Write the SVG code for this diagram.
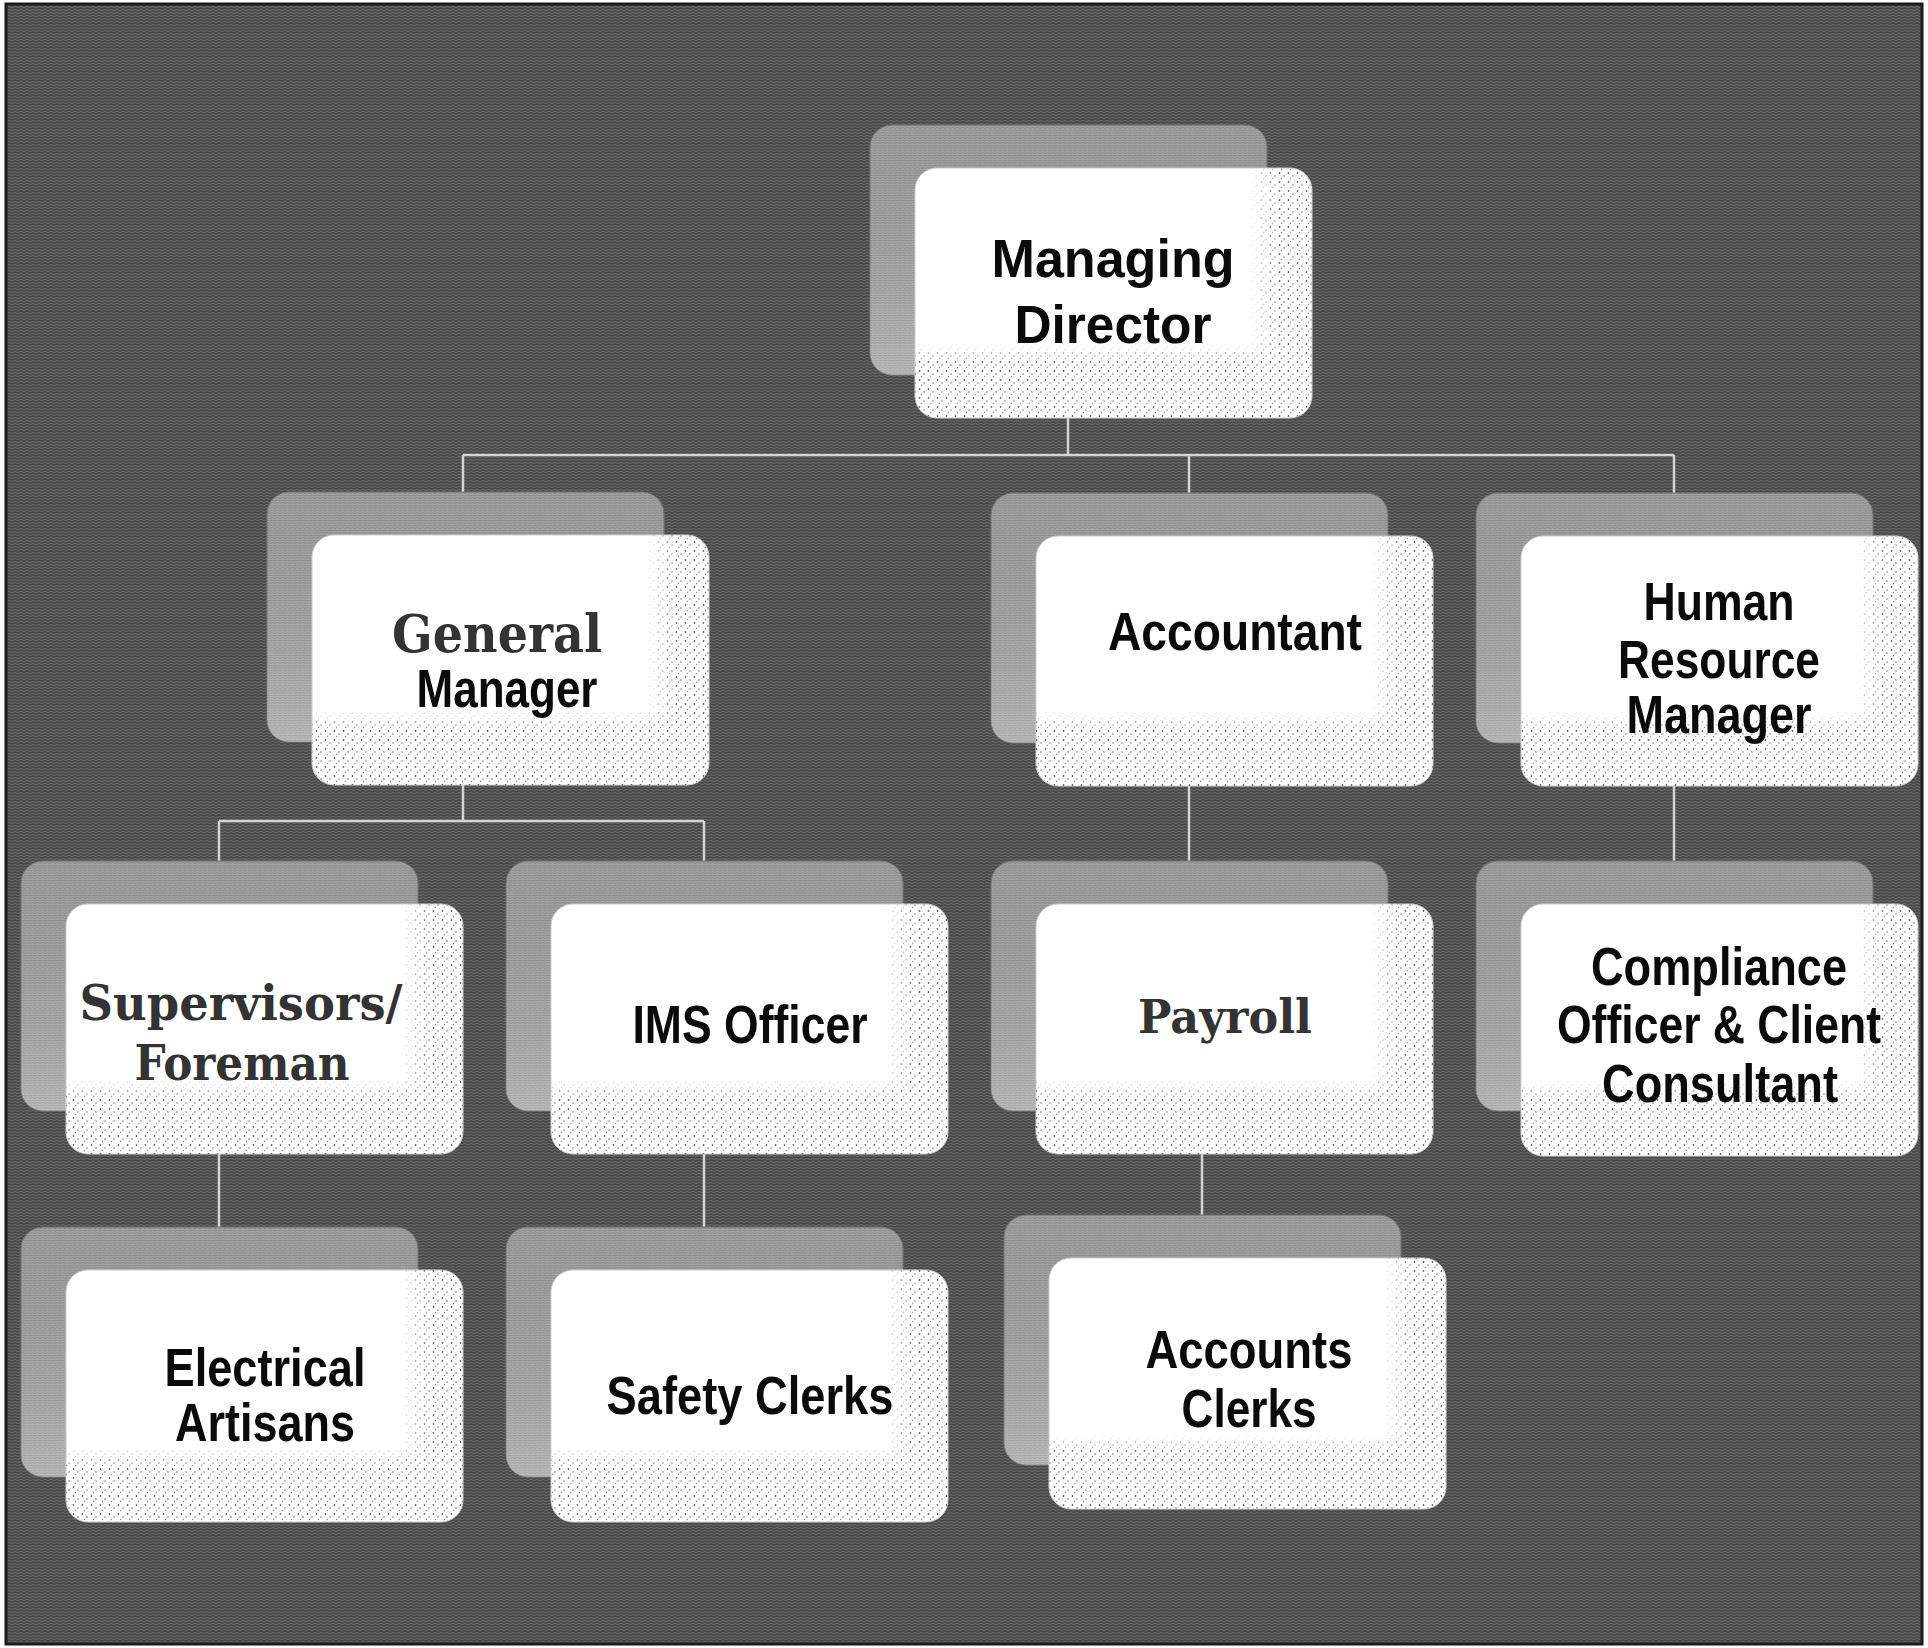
<svg xmlns="http://www.w3.org/2000/svg" width="1928" height="1648" viewBox="0 0 1928 1648">
<defs>
  <pattern id="dots" width="9" height="9" patternUnits="userSpaceOnUse">
    <circle cx="1.5" cy="2" r="0.9" fill="#666"/>
    <circle cx="6" cy="5" r="0.8" fill="#777"/>
    <circle cx="3.5" cy="7.5" r="0.7" fill="#888"/>
  </pattern>
  <pattern id="noise" width="6" height="6" patternUnits="userSpaceOnUse">
    <rect width="6" height="6" fill="#4a4a4a"/>
    <path d="M0,1.5 L3,0.5 L6,1.5 M0,4.5 L3,3.5 L6,4.5" stroke="#6a6a6a" stroke-width="1" fill="none"/>
  </pattern>
  <pattern id="backtex" width="5" height="5" patternUnits="userSpaceOnUse">
    <rect width="5" height="5" fill="#ababab"/>
    <path d="M0,1 L2.5,0 L5,1 M0,3.5 L2.5,2.5 L5,3.5" stroke="#8e8e8e" stroke-width="0.8" fill="none"/>
  </pattern>
  <linearGradient id="vg" x1="0" y1="0" x2="0" y2="1">
    <stop offset="0" stop-color="#000"/>
    <stop offset="0.7" stop-color="#000"/>
    <stop offset="0.78" stop-color="#fff"/>
    <stop offset="1" stop-color="#fff"/>
  </linearGradient>
  <linearGradient id="hg" x1="0" y1="0" x2="1" y2="0">
    <stop offset="0" stop-color="#fff" stop-opacity="0"/>
    <stop offset="0.84" stop-color="#fff" stop-opacity="0"/>
    <stop offset="0.92" stop-color="#fff" stop-opacity="1"/>
    <stop offset="1" stop-color="#fff" stop-opacity="1"/>
  </linearGradient>
  <mask id="edge" maskContentUnits="objectBoundingBox">
    <rect width="1" height="1" fill="url(#vg)"/>
    <rect width="1" height="1" fill="url(#hg)"/>
  </mask>
  <linearGradient id="backg" x1="0" y1="0" x2="0" y2="1">
    <stop offset="0" stop-color="#000" stop-opacity="0.06"/>
    <stop offset="1" stop-color="#fff" stop-opacity="0.18"/>
  </linearGradient>
</defs>
<style>
  .bg { fill: url(#noise); stroke: #1a1a1a; stroke-width: 3; }
  .back { fill: url(#backtex); stroke: #777; stroke-width: 1; }
  .backshade { fill: url(#backg); }
  .front { fill: #ffffff; stroke: #cfcfcf; stroke-width: 1; }
  .stip { fill: url(#dots); }
  .conn { stroke: #d4d4d4; stroke-width: 2.5; fill: none; }
  .sans { font-family: "Liberation Sans", Arial, sans-serif; font-weight: bold; font-size: 53px; fill: #0a0a0a; text-anchor: middle; }
  .serif { font-family: "DejaVu Serif", "Liberation Serif", serif; font-weight: bold; fill: #333333; text-anchor: middle; }
</style>
<rect x="0" y="0" width="1928" height="1648" fill="#ffffff"/>
<rect class="bg" x="6" y="4" width="1916" height="1640"/>

<g id="connectors">
  <path class="conn" d="M1068,415 V455 M463,455 H1674 M463,455 V494 M1189,455 V494 M1674,455 V494"/>
  <path class="conn" d="M463,783 V821 M219,821 H704 M219,821 V862 M704,821 V862"/>
  <path class="conn" d="M1189,784 V862"/>
  <path class="conn" d="M1674,784 V862"/>
  <path class="conn" d="M219,1151 V1228"/>
  <path class="conn" d="M704,1151 V1228"/>
  <path class="conn" d="M1202,1151 V1216"/>
</g>

<g id="managing-director">
  <rect class="back" x="870" y="125" width="397" height="250" rx="22"/>
  <rect class="backshade" x="870" y="125" width="397" height="250" rx="22"/>
  <rect class="front" x="915" y="168" width="397" height="250" rx="22"/>
  <rect class="stip" x="915" y="168" width="397" height="250" rx="22" mask="url(#edge)"/>
  <text class="sans" font-size="58" x="1113" y="277" textLength="243" lengthAdjust="spacingAndGlyphs">Managing</text>
  <text class="sans" font-size="58" x="1113" y="343" textLength="197" lengthAdjust="spacingAndGlyphs">Director</text>
</g>

<g id="general-manager">
  <rect class="back" x="267" y="492" width="397" height="250" rx="22"/>
  <rect class="backshade" x="267" y="492" width="397" height="250" rx="22"/>
  <rect class="front" x="312" y="535" width="397" height="250" rx="22"/>
  <rect class="stip" x="312" y="535" width="397" height="250" rx="22" mask="url(#edge)"/>
  <text class="serif" font-size="53" x="497" y="652" textLength="210" lengthAdjust="spacingAndGlyphs">General</text>
  <text class="sans" x="507" y="707" textLength="181" lengthAdjust="spacingAndGlyphs">Manager</text>
</g>

<g id="accountant">
  <rect class="back" x="991" y="493" width="397" height="250" rx="22"/>
  <rect class="backshade" x="991" y="493" width="397" height="250" rx="22"/>
  <rect class="front" x="1036" y="536" width="397" height="250" rx="22"/>
  <rect class="stip" x="1036" y="536" width="397" height="250" rx="22" mask="url(#edge)"/>
  <text class="sans" x="1235" y="650" textLength="254" lengthAdjust="spacingAndGlyphs">Accountant</text>
</g>

<g id="human-resource-manager">
  <rect class="back" x="1476" y="493" width="397" height="250" rx="22"/>
  <rect class="backshade" x="1476" y="493" width="397" height="250" rx="22"/>
  <rect class="front" x="1521" y="536" width="397" height="250" rx="22"/>
  <rect class="stip" x="1521" y="536" width="397" height="250" rx="22" mask="url(#edge)"/>
  <text class="sans" x="1719" y="620" textLength="151" lengthAdjust="spacingAndGlyphs">Human</text>
  <text class="sans" x="1719" y="678" textLength="202" lengthAdjust="spacingAndGlyphs">Resource</text>
  <text class="sans" x="1719" y="733" textLength="185" lengthAdjust="spacingAndGlyphs">Manager</text>
</g>

<g id="supervisors-foreman">
  <rect class="back" x="21" y="861" width="397" height="250" rx="22"/>
  <rect class="backshade" x="21" y="861" width="397" height="250" rx="22"/>
  <rect class="front" x="66" y="904" width="397" height="250" rx="22"/>
  <rect class="stip" x="66" y="904" width="397" height="250" rx="22" mask="url(#edge)"/>
  <text class="serif" font-size="48" x="241" y="1020" textLength="323" lengthAdjust="spacingAndGlyphs">Supervisors/</text>
  <text class="serif" font-size="48" x="242" y="1080" textLength="215" lengthAdjust="spacingAndGlyphs">Foreman</text>
</g>

<g id="ims-officer">
  <rect class="back" x="506" y="861" width="397" height="250" rx="22"/>
  <rect class="backshade" x="506" y="861" width="397" height="250" rx="22"/>
  <rect class="front" x="551" y="904" width="397" height="250" rx="22"/>
  <rect class="stip" x="551" y="904" width="397" height="250" rx="22" mask="url(#edge)"/>
  <text class="sans" x="750" y="1043" textLength="235" lengthAdjust="spacingAndGlyphs">IMS Officer</text>
</g>

<g id="payroll">
  <rect class="back" x="991" y="861" width="397" height="250" rx="22"/>
  <rect class="backshade" x="991" y="861" width="397" height="250" rx="22"/>
  <rect class="front" x="1036" y="904" width="397" height="250" rx="22"/>
  <rect class="stip" x="1036" y="904" width="397" height="250" rx="22" mask="url(#edge)"/>
  <text class="serif" font-size="46" x="1225" y="1033" textLength="174" lengthAdjust="spacingAndGlyphs">Payroll</text>
</g>

<g id="compliance-officer">
  <rect class="back" x="1476" y="861" width="397" height="250" rx="22"/>
  <rect class="backshade" x="1476" y="861" width="397" height="250" rx="22"/>
  <rect class="front" x="1521" y="904" width="397" height="252" rx="22"/>
  <rect class="stip" x="1521" y="904" width="397" height="252" rx="22" mask="url(#edge)"/>
  <text class="sans" font-size="51" x="1719" y="985" textLength="256" lengthAdjust="spacingAndGlyphs">Compliance</text>
  <text class="sans" font-size="51" x="1719" y="1043" textLength="324" lengthAdjust="spacingAndGlyphs">Officer &amp; Client</text>
  <text class="sans" font-size="51" x="1720" y="1102" textLength="236" lengthAdjust="spacingAndGlyphs">Consultant</text>
</g>

<g id="electrical-artisans">
  <rect class="back" x="21" y="1227" width="397" height="250" rx="22"/>
  <rect class="backshade" x="21" y="1227" width="397" height="250" rx="22"/>
  <rect class="front" x="66" y="1270" width="397" height="252" rx="22"/>
  <rect class="stip" x="66" y="1270" width="397" height="252" rx="22" mask="url(#edge)"/>
  <text class="sans" x="265" y="1386" textLength="201" lengthAdjust="spacingAndGlyphs">Electrical</text>
  <text class="sans" x="265" y="1441" textLength="180" lengthAdjust="spacingAndGlyphs">Artisans</text>
</g>

<g id="safety-clerks">
  <rect class="back" x="506" y="1227" width="397" height="250" rx="22"/>
  <rect class="backshade" x="506" y="1227" width="397" height="250" rx="22"/>
  <rect class="front" x="551" y="1270" width="397" height="252" rx="22"/>
  <rect class="stip" x="551" y="1270" width="397" height="252" rx="22" mask="url(#edge)"/>
  <text class="sans" x="750" y="1414" textLength="287" lengthAdjust="spacingAndGlyphs">Safety Clerks</text>
</g>

<g id="accounts-clerks">
  <rect class="back" x="1004" y="1215" width="397" height="250" rx="22"/>
  <rect class="backshade" x="1004" y="1215" width="397" height="250" rx="22"/>
  <rect class="front" x="1049" y="1258" width="397" height="251" rx="22"/>
  <rect class="stip" x="1049" y="1258" width="397" height="251" rx="22" mask="url(#edge)"/>
  <text class="sans" x="1249" y="1368" textLength="207" lengthAdjust="spacingAndGlyphs">Accounts</text>
  <text class="sans" x="1249" y="1427" textLength="135" lengthAdjust="spacingAndGlyphs">Clerks</text>
</g>
</svg>
